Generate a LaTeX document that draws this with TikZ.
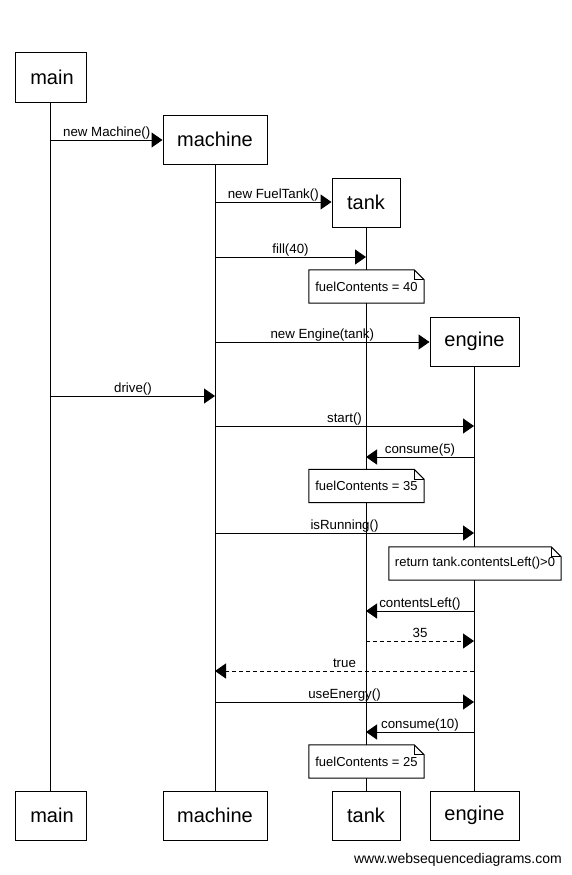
\documentclass[tikz,border=0pt]{standalone}
\usepackage{fontspec}
\setmainfont{Liberation Sans}
\usetikzlibrary{arrows.meta,calc}

% note with a folded top-right corner: name, centre, width, text
\newcommand\seqnote[4]{%
  \node[notebox,minimum width=#3] (#1) at (#2) {#4};
  \draw[thinline] (#1.south west) -- (#1.south east)
    -- ($(#1.north east)+(0,10)$) -- ($(#1.north east)+(-10,0)$)
    -- (#1.north west) -- cycle;
  \draw[thinline] ($(#1.north east)+(-10,0)$) |- ($(#1.north east)+(0,10)$);
}

\begin{document}
\begin{tikzpicture}[x=1pt,y=-1pt,
  thinline/.style={line width=1pt},
  actor/.style={draw,line width=1pt,fill=white,inner sep=0pt,
    minimum height=49pt,font=\fontsize{20}{24}\selectfont},
  life/.style={line width=1pt},
  msg/.style={line width=1pt,-{Triangle[length=11pt,width=15pt]}},
  reply/.style={msg,dash pattern=on 4pt off 3pt},
  lbl/.style={font=\fontsize{13.3}{15}\selectfont,anchor=base,inner sep=0pt,yshift=4pt},
  notebox/.style={font=\fontsize{13}{15}\selectfont,inner sep=0pt,
    minimum height=33pt,fill=white}
]
\useasboundingbox (0,0) rectangle (571,875);

% participants, top and bottom
\node[actor,minimum width=71pt,text depth=0pt]  (mainT)    at (50.5,77.5)  {\hspace{3pt}main};
\node[actor,minimum width=104pt] (machineT) at (215,139.5)  {machine};
\node[actor,minimum width=68pt]  (tankT)    at (366,202.5)  {tank};
\node[actor,minimum width=89pt]  (engineT)  at (474.5,341.5) {engine};

\node[actor,minimum width=71pt,text depth=0pt]  (mainB)    at (50.5,815.5) {\hspace{3pt}main};
\node[actor,minimum width=104pt] (machineB) at (215,815.5)  {machine};
\node[actor,minimum width=68pt]  (tankB)    at (366,815.5)  {tank};
\node[actor,minimum width=89pt]  (engineB)  at (474.5,815.5) {engine};

% lifelines
\draw[life] (mainT.south) -- (mainB.north);
\draw[life] (machineT.south) -- (machineB.north);
\draw[life] (tankT.south) -- (tankB.north);
\draw[life] (engineT.south) -- (engineB.north);

% notes
\seqnote{n1}{366.5,286.5}{115pt}{fuelContents = 40}
\seqnote{n2}{366.5,486}{115pt}{fuelContents = 35}
\seqnote{n3}{475,563.5}{172pt}{return tank.contentsLeft()>0}
\seqnote{n4}{366.5,761.5}{115pt}{fuelContents = 25}

% message end points on the lifelines
\coordinate (m1a) at (51,140);
\coordinate (m2a) at (215,202);
\coordinate (m3a) at (215,257);   \coordinate (m3b) at (366,257);
\coordinate (m4a) at (215,342);
\coordinate (m5a) at (51,396);    \coordinate (m5b) at (215,396);
\coordinate (m6a) at (215,426);   \coordinate (m6b) at (474,426);
\coordinate (m7a) at (474,457);   \coordinate (m7b) at (366,457);
\coordinate (m8a) at (215,533);   \coordinate (m8b) at (474,533);
\coordinate (m9a) at (474,611);   \coordinate (m9b) at (366,611);
\coordinate (m10a) at (366,641);  \coordinate (m10b) at (474,641);
\coordinate (m11a) at (474,671);  \coordinate (m11b) at (215,671);
\coordinate (m12a) at (215,702);  \coordinate (m12b) at (474,702);
\coordinate (m13a) at (474,732);  \coordinate (m13b) at (366,732);

% messages
\draw[msg] (m1a) -- (m1a -| machineT.west)
  node[lbl,pos=0.5] (l1) {new Machine()};
\draw[msg] (m2a) -- (m2a -| tankT.west)
  node[lbl,pos=0.5] (l2) {new FuelTank()};
\draw[msg] (m3a) -- (m3b) node[lbl,pos=0.5] (l3) {fill(40)};
\draw[msg] (m4a) -- (m4a -| engineT.west)
  node[lbl,pos=0.5] (l4) {new Engine(tank)};
\draw[msg] (m5a) -- (m5b) node[lbl,pos=0.5] (l5) {drive()};
\draw[msg] (m6a) -- (m6b) node[lbl,pos=0.5] (l6) {start()};
\draw[msg] (m7a) -- (m7b) node[lbl,pos=0.5] (l7) {consume(5)};
\draw[msg] (m8a) -- (m8b) node[lbl,pos=0.5] (l8) {isRunning()};
\draw[msg] (m9a) -- (m9b) node[lbl,pos=0.5] (l9) {contentsLeft()};
\draw[reply] (m10a) -- (m10b) node[lbl,pos=0.5] (l10) {35};
\draw[reply] (m11a) -- (m11b) node[lbl,pos=0.5] (l11) {true};
\draw[msg] (m12a) -- (m12b) node[lbl,pos=0.5] (l12) {useEnergy()};
\draw[msg] (m13a) -- (m13b) node[lbl,pos=0.5] (l13) {consume(10)};

% footer
\node[anchor=base east,inner sep=0pt,font=\fontsize{14}{16}\selectfont]
  (credit) at (562,863) {www.websequencediagrams.com};
\end{tikzpicture}
\end{document}
